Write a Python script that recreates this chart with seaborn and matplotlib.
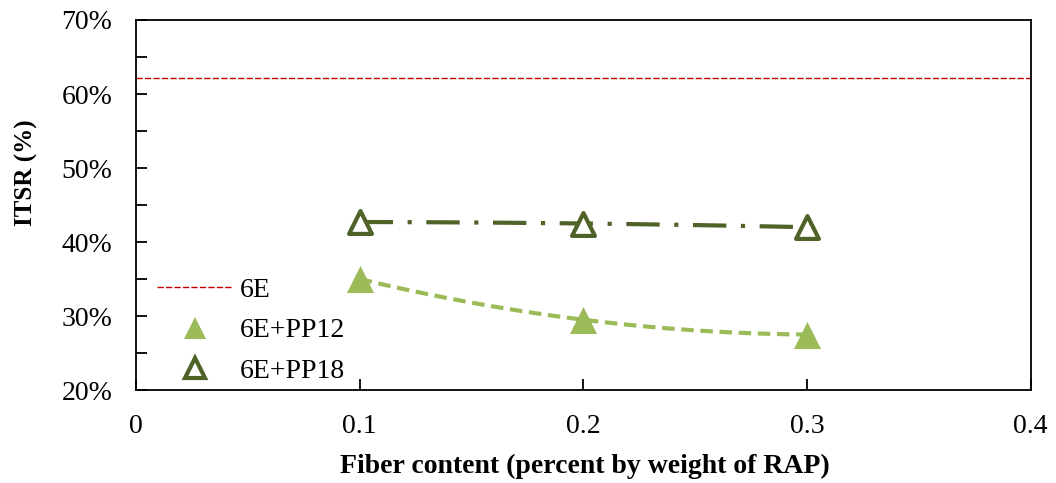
import numpy as np
import pandas as pd
import matplotlib.pyplot as plt
import matplotlib.ticker as mticker
from matplotlib.lines import Line2D
import seaborn as sns

# ── DATA ──────────────────────────────────────────────────────────────────────
fiber = [0.1, 0.2, 0.3]
itsr_pp12 = [35.0, 29.5, 27.5]
itsr_pp18 = [42.7, 42.5, 42.0]
itsr_6e = 62.1

# ── SETUP ─────────────────────────────────────────────────────────────────────
sns.set_theme(style="ticks")
plt.rcParams["font.family"] = ["Liberation Serif", "DejaVu Serif"]
plt.rcParams["text.color"] = "black"
plt.rcParams["axes.labelcolor"] = "black"
plt.rcParams["xtick.color"] = "black"
plt.rcParams["ytick.color"] = "black"

light_green = "#9BBB59"
dark_green = "#4F6228"
red = "#C00000"

df = pd.DataFrame({"fiber": fiber, "PP12": itsr_pp12, "PP18": itsr_pp18})

fig = plt.figure(figsize=(10.56, 4.83), dpi=100)
ax = fig.add_axes([0.1288, 0.1925, 0.8472, 0.7661])

# baseline 6E
ax.axhline(itsr_6e, color=red, linewidth=1.0, linestyle=(0, (4.5, 1.6)), zorder=1)

# polynomial trendlines (fit of the three points, as in the original chart)
xs = np.linspace(fiber[0], fiber[-1], 60)
trend12 = np.polyval(np.polyfit(fiber, itsr_pp12, 2), xs)
trend18 = np.polyval(np.polyfit(fiber, itsr_pp18, 2), xs)
sns.lineplot(x=xs, y=trend12, ax=ax, color=light_green, linewidth=3,
             linestyle=(0, (3, 1.6)), zorder=2)
sns.lineplot(x=xs, y=trend18, ax=ax, color=dark_green, linewidth=3,
             linestyle=(0, (8, 3.5, 1, 3.5)), zorder=2)

# markers
sns.scatterplot(data=df, x="fiber", y="PP12", ax=ax, marker="^", s=380,
                color=light_green, edgecolor=light_green, linewidth=0, zorder=3)
sns.scatterplot(data=df, x="fiber", y="PP18", ax=ax, marker="^", s=270,
                facecolor="white", edgecolor=dark_green, linewidth=3, zorder=3)

# ── AXES ──────────────────────────────────────────────────────────────────────
ax.set_xlim(0, 0.4)
ax.set_ylim(20, 70)
ax.xaxis.set_major_locator(mticker.MultipleLocator(0.1))
ax.yaxis.set_major_locator(mticker.MultipleLocator(10))
ax.yaxis.set_minor_locator(mticker.MultipleLocator(5))
ax.xaxis.set_major_formatter(mticker.FuncFormatter(lambda x, _: "0" if x == 0 else f"{x:.1f}"))
ax.yaxis.set_major_formatter(mticker.FuncFormatter(lambda y, _: f"{y:.0f}%"))
ax.tick_params(axis="both", which="both", direction="in", length=8, width=1.3,
               labelsize=20, colors="black")
ax.tick_params(axis="x", pad=17)
ax.tick_params(axis="y", pad=17)
for side in ["top", "right", "bottom", "left"]:
    ax.spines[side].set_visible(True)
    ax.spines[side].set_color("black")
    ax.spines[side].set_linewidth(1.3)

ax.set_xlabel("Fiber content (percent by weight of RAP)", fontsize=20,
              fontweight="bold")
ax.set_ylabel("ITSR (%)", fontsize=18, fontweight="bold")
ax.xaxis.set_label_coords(0.5017, -0.173)
ax.yaxis.set_label_coords(-0.109, 0.586)

# ── LEGEND ────────────────────────────────────────────────────────────────────
handles = [
    Line2D([], [], color=red, linewidth=1.0, linestyle=(0, (4.5, 1.6))),
    Line2D([], [], linestyle="none", marker="^", markersize=16,
           color=light_green, markeredgewidth=0),
    Line2D([], [], linestyle="none", marker="^", markersize=14,
           markerfacecolor="white", markeredgecolor=dark_green, markeredgewidth=3),
]
ax.legend(handles, ["6E", "6E+PP12", "6E+PP18"], loc="lower left",
          bbox_to_anchor=(-0.004, -0.05), frameon=False, fontsize=20,
          handlelength=2.7, labelspacing=0.53, handletextpad=0.27)

plt.savefig("out.png", dpi=100)
plt.close()
